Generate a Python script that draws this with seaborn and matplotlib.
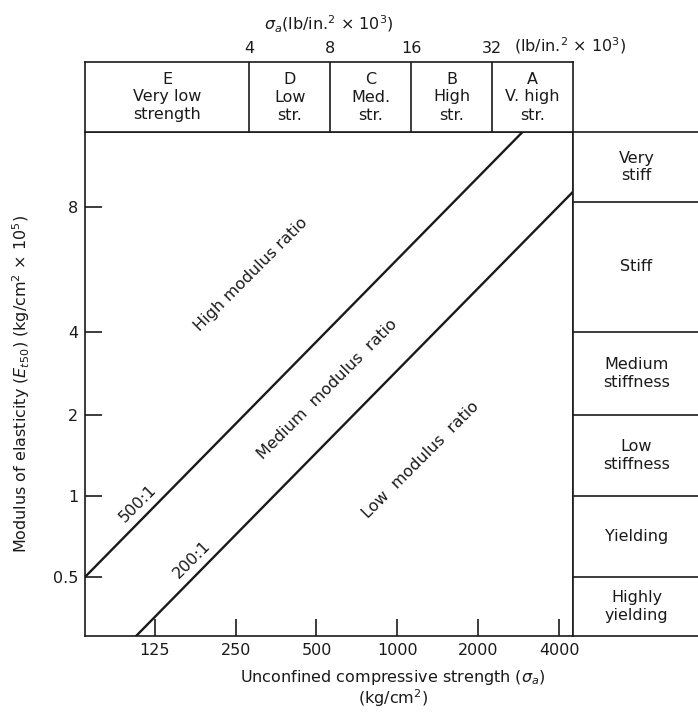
import numpy as np
import matplotlib
matplotlib.use("Agg")
import matplotlib.pyplot as plt
import seaborn as sns
from matplotlib.ticker import FixedLocator, NullLocator

# --- data ---
strength_ticks = [125, 250, 500, 1000, 2000, 4000]      # kg/cm2
modulus_ticks = [0.5, 1, 2, 4, 8]                         # x 1e5 kg/cm2
x_range = [68.8, 4505]
y_range = [0.302, 12.1]

# modulus ratio lines (end points as drawn)
ratio_labels = ["500:1", "200:1"]
ratio_sigma = [[68.8, 2923], [106.6, 4505]]
ratio_E = [[0.5, 12.1], [0.302, 8.69]]
ratio_label_sigma = [108.5, 172.6]
ratio_label_E = [0.94, 0.58]

region_labels = ["High modulus ratio", "Medium  modulus  ratio", "Low  modulus  ratio"]
region_sigma = [286, 551, 1218]
region_E = [5.49, 2.48, 1.36]

# strength classes (top strip), bounds in 1e3 lb/in2
strength_ksi = [4, 8, 16, 32]
strength_classes = ["E\nVery low\nstrength", "D\nLow\nstr.", "C\nMed.\nstr.",
                    "B\nHigh\nstr.", "A\nV. high\nstr."]
KG_PER_KSI = 70.3

# stiffness classes (right strip)
stiffness_bounds = [0.5, 1, 2, 4, 8.22]
stiffness_classes = ["Highly\nyielding", "Yielding", "Low\nstiffness",
                     "Medium\nstiffness", "Stiff", "Very\nstiff"]

# the E axis in the original is log spaced, but the 4-8 band is drawn stretched
LOG_E = [-6, -1, 0, 1, 2, 3, 8]
POS_E = [-405, 0, 81, 162, 245, 370, 995]


def fwd(y):
    return np.interp(np.log2(np.clip(y, 1e-6, None)), LOG_E, POS_E)


def inv(p):
    return 2.0 ** np.interp(p, POS_E, LOG_E)


sns.set_theme(style="white")
plt.rcParams["font.family"] = ["DejaVu Sans"]
plt.rcParams["mathtext.fontset"] = "dejavusans"
FS = 11.5
INK = "#1a1a1a"
LW = 1.2

fig = plt.figure(figsize=(6.98, 7.12), dpi=100)
W, H = 698, 712
L, R, T, B = 85, 573, 132, 636
ax = fig.add_axes([L / W, (H - B) / H, (R - L) / W, (B - T) / H])
ax_top = fig.add_axes([L / W, (H - T) / H, (R - L) / W, 70 / H])
ax_r = fig.add_axes([R / W, (H - B) / H, (W - R + 2) / W, (B - T) / H])

for a in (ax, ax_top):
    a.set_xscale("log", base=2)
    a.set_xlim(x_range)
for a in (ax, ax_r):
    a.set_yscale("function", functions=(fwd, inv))
    a.set_ylim(y_range)

# main chart
for i, lab in enumerate(ratio_labels):
    sns.lineplot(x=ratio_sigma[i], y=ratio_E[i], ax=ax, color=INK, lw=1.7,
                 estimator=None, sort=False)
    ax.text(ratio_label_sigma[i], ratio_label_E[i], lab, rotation=45, fontsize=FS,
            ha="center", va="center", rotation_mode="anchor", color=INK)
for lab, s, e in zip(region_labels, region_sigma, region_E):
    ax.text(s, e, lab, rotation=45, fontsize=FS, ha="center", va="center",
            rotation_mode="anchor", color=INK)

ax.xaxis.set_major_locator(FixedLocator(strength_ticks))
ax.xaxis.set_minor_locator(NullLocator())
ax.set_xticklabels([str(t) for t in strength_ticks])
ax.yaxis.set_major_locator(FixedLocator(modulus_ticks))
ax.yaxis.set_minor_locator(NullLocator())
ax.set_yticklabels([f"{t:g}" for t in modulus_ticks])
ax.tick_params(direction="in", length=12, width=LW, labelsize=FS, pad=5, colors=INK,
               bottom=True, left=True)
for s in ax.spines.values():
    s.set_linewidth(LW)
    s.set_color(INK)

ax.set_xlabel("Unconfined compressive strength ($\\sigma_a$)\n(kg/cm$^2$)",
              fontsize=FS, color=INK, linespacing=1.0)
ax.xaxis.set_label_coords(0.631, -0.064)
ax.set_ylabel("Modulus of elasticity ($E_{t50}$) (kg/cm$^2$ × 10$^5$)",
              fontsize=FS, color=INK)
ax.yaxis.set_label_coords(-0.108, 0.5)

# top strip: strength classes
bounds_kg = [k * KG_PER_KSI for k in strength_ksi]
edges = [x_range[0]] + bounds_kg + [x_range[1]]
for b in bounds_kg:
    ax_top.axvline(b, color=INK, lw=LW)
for i, lab in enumerate(strength_classes):
    ax_top.text(np.sqrt(edges[i] * edges[i + 1]), 0.5, lab, ha="center", va="center",
                fontsize=FS, color=INK, linespacing=1.25,
                transform=ax_top.get_xaxis_transform())
ax_top.set_ylim(0, 1)
ax_top.set_yticks([])
ax_top.xaxis.tick_top()
ax_top.xaxis.set_major_locator(FixedLocator(bounds_kg))
ax_top.xaxis.set_minor_locator(NullLocator())
ax_top.set_xticklabels([str(k) for k in strength_ksi])
ax_top.tick_params(axis="x", length=0, labelsize=FS, pad=4, colors=INK)
ax_top.xaxis.set_label_position("top")
ax_top.set_xlabel("$\\sigma_a$(lb/in.$^2$ × 10$^3$)", fontsize=FS, color=INK, labelpad=8)
ax_top.annotate("(lb/in.$^2$ × 10$^3$)", xy=(bounds_kg[-1], 1), xycoords=("data", "axes fraction"),
                xytext=(16, 4), textcoords="offset points", ha="left", va="bottom",
                fontsize=FS, color=INK)
for s in ax_top.spines.values():
    s.set_linewidth(LW)
    s.set_color(INK)

# right strip: stiffness classes
sb = [y_range[0]] + stiffness_bounds + [y_range[1]]
for b in stiffness_bounds:
    ax_r.axhline(b, color=INK, lw=LW)
for i, lab in enumerate(stiffness_classes):
    ym = inv((fwd(sb[i]) + fwd(sb[i + 1])) / 2)
    ax_r.text(0.5, ym, lab, ha="center", va="center", fontsize=FS, color=INK,
              linespacing=1.2, transform=ax_r.get_yaxis_transform())
ax_r.set_xlim(0, 1)
ax_r.set_xticks([])
ax_r.yaxis.set_major_locator(NullLocator())
ax_r.yaxis.set_minor_locator(NullLocator())
ax_r.spines["right"].set_visible(False)
for s in ax_r.spines.values():
    s.set_linewidth(LW)
    s.set_color(INK)

fig.savefig("out.png", dpi=100, facecolor="white")
